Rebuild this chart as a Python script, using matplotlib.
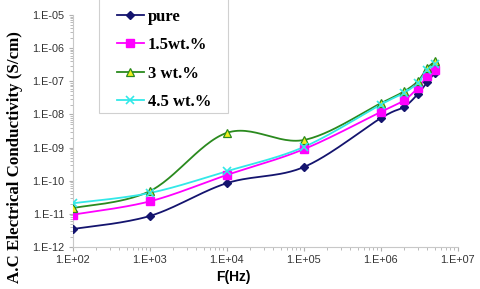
import numpy as np
import matplotlib
matplotlib.use("Agg")
import matplotlib.pyplot as plt
from matplotlib.patches import Rectangle

# frequency (Hz) and AC conductivity (S/cm)
freq = [1e2, 1e3, 1e4, 1e5, 1e6, 2e6, 3e6, 4e6, 5e6]
pure = [3.5e-12, 8.7e-12, 8.5e-11, 2.6e-10, 7.8e-9, 1.7e-8, 4.1e-8, 9.5e-8, 1.8e-7]
wt15 = [9.5e-12, 2.4e-11, 1.5e-10, 9.0e-10, 1.2e-8, 2.7e-8, 6.3e-8, 1.45e-7, 2.2e-7]
wt30 = [1.5e-11, 4.9e-11, 2.8e-9, 1.7e-9, 2.2e-8, 5.0e-8, 1.0e-7, 2.5e-7, 4.0e-7]
wt45 = [2.1e-11, 4.3e-11, 1.95e-10, 1.05e-9, 2.0e-8, 4.5e-8, 9.0e-8, 2.2e-7, 3.3e-7]
labels = ["pure", "1.5wt.%", "3 wt.%", "4.5 wt.%"]


def smooth(x, y, n=30):
    # Excel-style smoothed line (Catmull-Rom bezier) in log-log space
    P = np.column_stack([np.log10(x), np.log10(y)])
    out = [P[0]]
    t = np.linspace(0, 1, n)[1:, None]
    for i in range(len(P) - 1):
        p0 = P[i - 1] if i > 0 else P[i]
        p3 = P[i + 2] if i + 2 < len(P) else P[i + 1]
        c1 = P[i] + (P[i + 1] - p0) / 6
        c2 = P[i + 1] - (p3 - P[i]) / 6
        seg = ((1 - t) ** 3 * P[i] + 3 * (1 - t) ** 2 * t * c1
               + 3 * (1 - t) * t ** 2 * c2 + t ** 3 * P[i + 1])
        out.extend(seg)
    out = np.array(out)
    return 10 ** out[:, 0], 10 ** out[:, 1]


fig = plt.figure(figsize=(4.8, 2.89), dpi=100)
ax = fig.add_axes([0.152, 0.145, 0.802, 0.803])

series = [
    (pure, "#14146e", dict(marker="D", ms=4.5, mfc="#14146e", mec="#14146e")),
    (wt15, "#ff00ff", dict(marker="s", ms=5.5, mfc="#ff00ff", mec="#ff00ff")),
    (wt30, "#2a8a1e", dict(marker="^", ms=6, mfc="#f0f020", mec="#2a8a1e", mew=0.9)),
    (wt45, "#33e8e8", dict(marker="x", ms=6, mfc="#33e8e8", mec="#33e8e8", mew=1.2)),
]
handles = []
for (vals, col, mk), lab in zip(series, labels):
    sx, sy = smooth(freq, vals)
    ax.plot(sx, sy, color=col, lw=1.3, zorder=2)
    ax.plot(freq, vals, ls="none", zorder=3, **mk)
    h, = ax.plot([], [], color=col, lw=1.3, **mk)
    handles.append(h)

ax.set_xscale("log")
ax.set_yscale("log")
ax.set_xlim(1e2, 1e7)
ax.set_ylim(1e-12, 1e-5)
ax.set_xticks([10.0 ** k for k in range(2, 8)])
ax.set_xticklabels(["1.E+%02d" % k for k in range(2, 8)])
ax.set_yticks([10.0 ** k for k in range(-12, -4)])
ax.set_yticklabels(["1.E-%02d" % -k for k in range(-12, -4)])

for s in ["top", "right"]:
    ax.spines[s].set_visible(False)
for s in ["left", "bottom"]:
    ax.spines[s].set_color("#c8c8c8")
    ax.spines[s].set_linewidth(0.8)
ax.tick_params(which="both", colors="#b0b0b0", labelcolor="#333333",
               labelsize=7.8, labelfontfamily="Liberation Sans")
ax.tick_params(which="major", length=3, pad=3)
ax.tick_params(which="minor", length=2)

fig.text(0.031, 0.458, "A.C Electrical Conductivity (S/cm)", rotation=90,
         ha="center", va="center", fontsize=12.2, fontweight="bold",
         family="Liberation Serif")
fig.text(0.487, 0.04, "F(Hz)", ha="center", va="center", fontsize=10,
         fontweight="bold", family="Liberation Sans")

# legend box (white, thin grey border) with the entries placed inside
box = Rectangle((99 / 480, 1 - 113 / 289), 129 / 480, 115 / 289,
                transform=fig.transFigure, facecolor="white",
                edgecolor="#d0d0d0", lw=0.8, zorder=4)
fig.add_artist(box)
leg = ax.legend(handles, labels, loc="upper left",
                bbox_to_anchor=(117 / 480, 1.0 - 9 / 289, 0, 0),
                bbox_transform=fig.transFigure,
                prop=dict(family="Liberation Serif", weight="bold", size=12),
                frameon=False, handlelength=1.6,
                handletextpad=0.25, labelspacing=0.74, borderpad=0,
                borderaxespad=0)
leg.set_zorder(5)
leg.remove()
fig.add_artist(leg)

fig.savefig("out.png", dpi=100)
